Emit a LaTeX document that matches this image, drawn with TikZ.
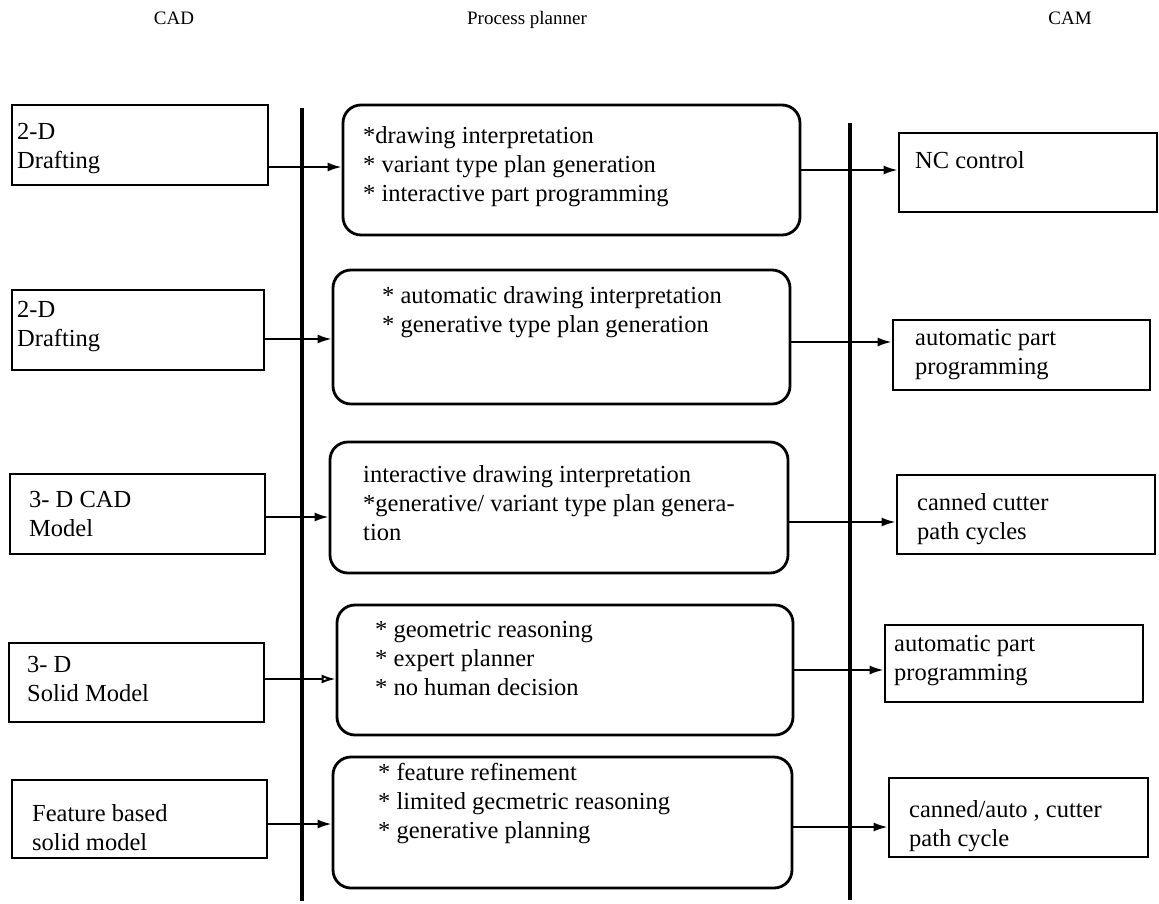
\documentclass[tikz,border=0pt]{standalone}
\usepackage{fontspec}
\setmainfont{Liberation Serif}
\usetikzlibrary{arrows.meta,fit}

\begin{document}
\begin{tikzpicture}[x=1pt,y=-1pt,
  box/.style={draw, line width=2.8pt, inner sep=0pt},
  plan/.style={box, rounded corners=18pt},
  txt/.style={anchor=north west, inner sep=0pt, align=left, font=\fontsize{24.5}{29}\selectfont},
  head/.style={anchor=base, inner sep=0pt, font=\fontsize{19}{23}\selectfont},
  bar/.style={line width=4.5pt},
  arr/.style={line width=2pt, -{Latex[length=14pt,width=9pt]}},
  oarr/.style={line width=2pt, -{Latex[open,length=14pt,width=9pt]}},
]
\useasboundingbox (0,0) rectangle (1159,903);

% column headings
\node[head] (hcad) at (174,24) {CAD};
\node[head] (hpp)  at (527,24) {Process planner};
\node[head] (hcam) at (1070,24) {CAM};

% separating bars
\coordinate (bl1) at (302,108);
\coordinate (bl2) at (302,901);
\coordinate (br1) at (850,123);
\coordinate (br2) at (850,900);
\draw[bar] (bl1) -- (bl2);
\draw[bar] (br1) -- (br2);

% CAD column
\node[box, fit={(12,105) (268,185)}] (l1) {};
\node[box, fit={(12,290) (264,370)}] (l2) {};
\node[box, fit={(10,474) (265,554)}] (l3) {};
\node[box, fit={(9,643) (264,722)}]  (l4) {};
\node[box, fit={(12,780) (267,858)}] (l5) {};
\node[txt] (l1t) at (17,123.5) {2-D\\Drafting};
\node[txt] (l2t) at (17,301.5) {2-D\\Drafting};
\node[txt] (l3t) at (29,491.5) {3- D CAD\\Model};
\node[txt] (l4t) at (27,656.5) {3- D\\Solid Model};
\node[txt] (l5t) at (32,804.5) {Feature based\\solid model};

% process planner column
\node[plan, fit={(343,105) (800,235)}] (p1) {};
\node[plan, fit={(333,270) (790,404)}] (p2) {};
\node[plan, fit={(330,442) (788,573)}] (p3) {};
\node[plan, fit={(337,605) (793,735)}] (p4) {};
\node[plan, fit={(333,757) (792,888)}] (p5) {};
\node[txt] (p1t) at (363,126.5) {*drawing interpretation\\* variant type plan generation\\* interactive part programming};
\node[txt] (p2t) at (382,286.5) {* automatic drawing interpretation\\* generative type plan generation};
\node[txt] (p3t) at (363,465.5) {interactive drawing interpretation\\*generative/ variant type plan genera-\\tion};
\node[txt] (p4t) at (375,621.5) {* geometric reasoning\\* expert planner\\* no human decision};
\node[txt] (p5t) at (378,763.5) {* feature refinement\\* limited gecmetric reasoning\\* generative planning};

% CAM column
\node[box, fit={(899,133) (1157,212)}] (r1) {};
\node[box, fit={(893,320) (1150,390)}] (r2) {};
\node[box, fit={(897,475) (1155,554)}] (r3) {};
\node[box, fit={(885,625) (1143,702)}] (r4) {};
\node[box, fit={(889,778) (1148,857)}] (r5) {};
\node[txt] (r1t) at (915,151.5) {NC control};
\node[txt] (r2t) at (915,329.5) {automatic part\\programming};
\node[txt] (r3t) at (917,493.5) {canned cutter\\path cycles};
\node[txt] (r4t) at (894,635.5) {automatic part\\programming};
\node[txt] (r5t) at (909,800.5) {canned/auto , cutter\\path cycle};

% connectors CAD -> planner
\draw[arr]  (l1.east |- 0,167) -- (p1.west |- 0,167);
\draw[arr]  (l2.east |- 0,339) -- (p2.west |- 0,339);
\draw[arr]  (l3.east |- 0,517) -- (p3.west |- 0,517);
\draw[oarr] (l4.east |- 0,679) -- (p4.west |- 0,679);
\draw[arr]  (l5.east |- 0,824) -- (p5.west |- 0,824);

% connectors planner -> CAM
\draw[arr] (p1.east |- 0,170) -- (r1.west |- 0,170);
\draw[arr] (p2.east |- 0,342) -- (r2.west |- 0,342);
\draw[arr] (p3.east |- 0,522) -- (r3.west |- 0,522);
\draw[arr] (p4.east |- 0,670) -- (r4.west |- 0,670);
\draw[arr] (p5.east |- 0,827) -- (r5.west |- 0,827);
\end{tikzpicture}
\end{document}
